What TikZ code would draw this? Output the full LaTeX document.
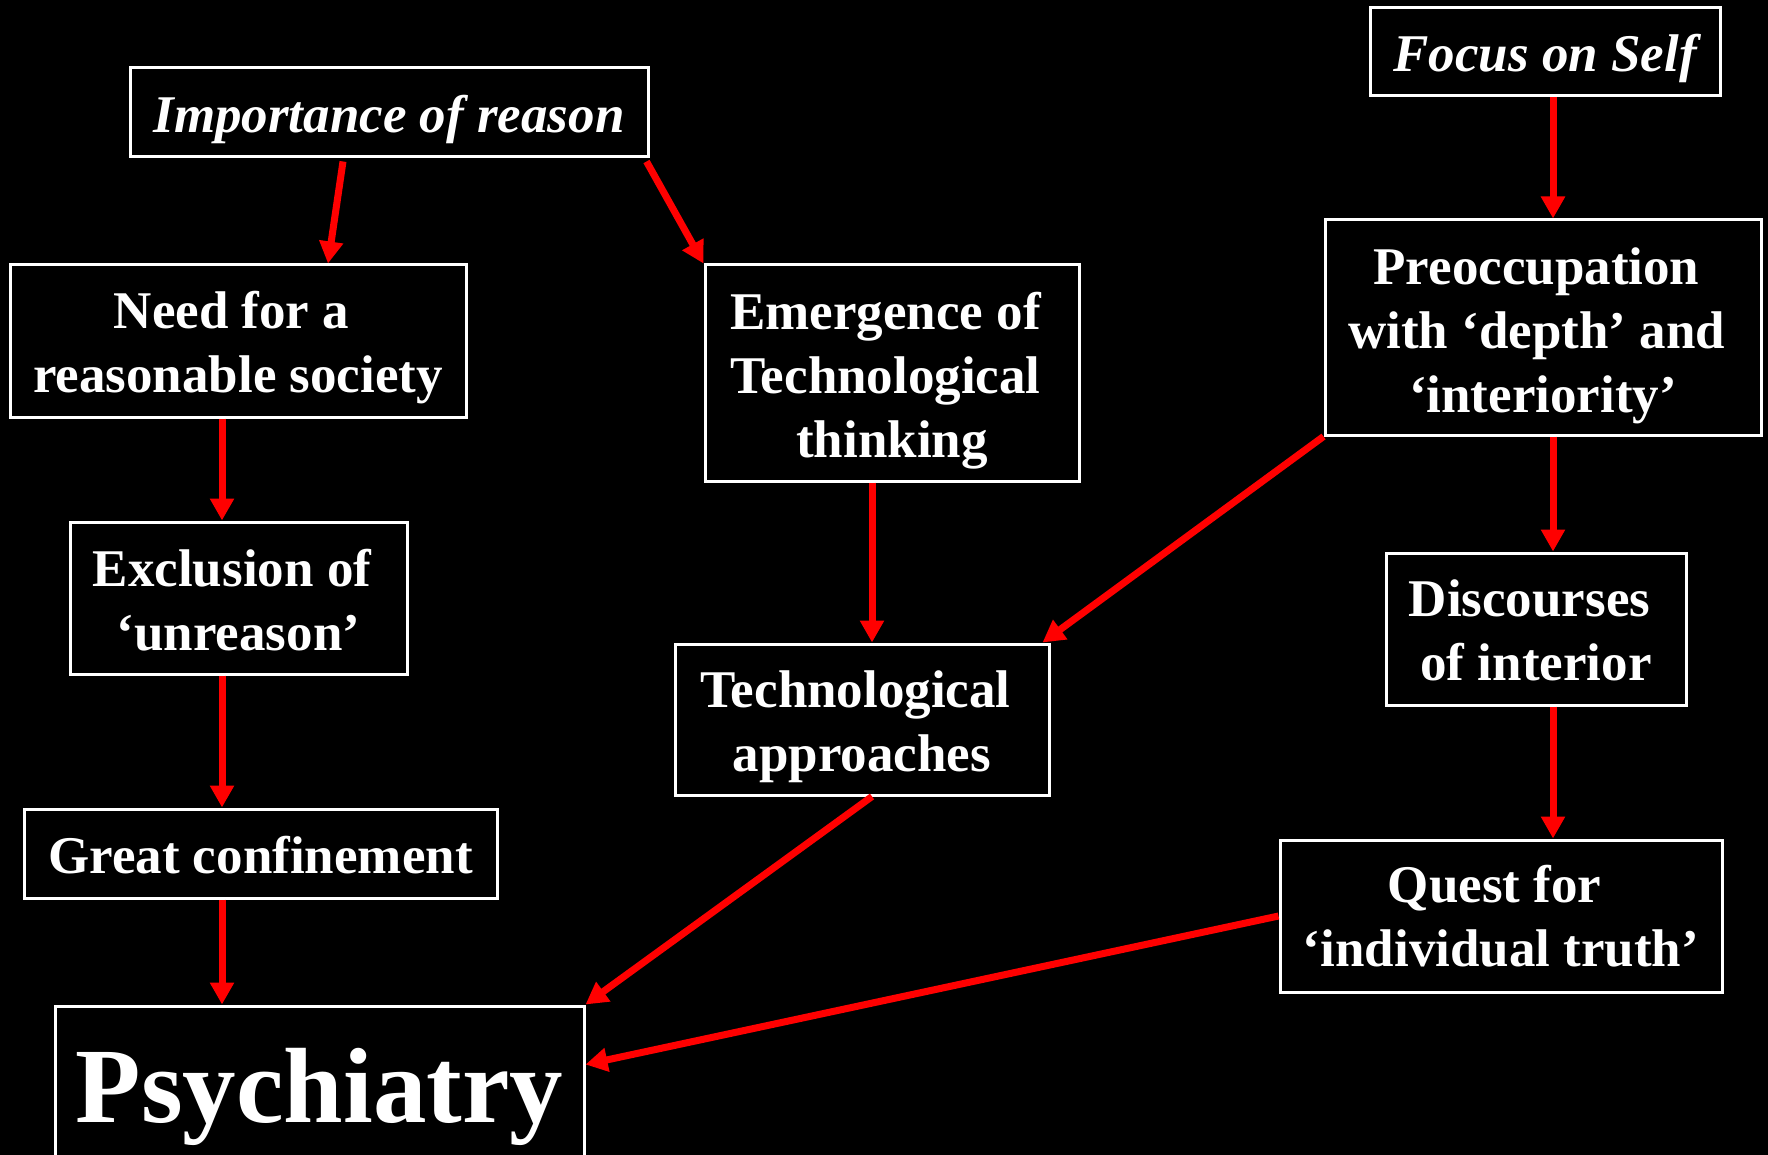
\documentclass[tikz,border=0pt]{standalone}
\usepackage{fontspec}
\setmainfont{Liberation Serif}
\usetikzlibrary{arrows.meta,calc}
\newcommand{\Ln}[2]{\raisebox{-#1pt}[\height][\depth]{#2}}
\newcommand{\Lt}[2]{\raisebox{-#1pt}[\height][\depth]{#2\kern13pt}}
\begin{document}
\begin{tikzpicture}[x=1pt,y=-1pt,
  box/.style 2 args={draw=white, line width=3pt, text=white,
    font=\fontsize{53}{64}\selectfont\bfseries, align=center, inner sep=0pt,
    minimum width=#1, minimum height=#2},
  italicbox/.style={font=\fontsize{53}{64}\selectfont\bfseries\itshape},
  redarrow/.style={draw=red, line width=7pt, -{Triangle[width=23pt,length=22pt]}}]
\useasboundingbox (0,0) rectangle (1768,1155);
\fill[black] (0,0) rectangle (1768,1155);
\clip (0,0) rectangle (1768,1155);

\node[box={518pt}{89pt}, italicbox] (imp) at (389,112.5) {\Ln{7}{Importance of reason}};
\node[box={456pt}{152pt}] (need) at (238,341) {\Lt{7}{Need for a}\\\Ln{7}{reasonable society}};
\node[box={337pt}{152pt}] (excl) at (238.5,598) {\Lt{2}{Exclusion of}\\\Ln{2}{‘unreason’}};
\node[box={473pt}{89pt}] (great) at (260.5,853.5) {\Ln{2}{Great confinement}};
\node[box={529pt}{182pt}, font=\fontsize{107}{120}\selectfont\bfseries] (psy) at (319.5,1097) {Psychiatry};
\node[box={374pt}{216pt}] (emer) at (892,373) {\Lt{8}{Emergence of}\\\Lt{8}{Technological}\\\Ln{8}{thinking}};
\node[box={374pt}{151pt}] (tech) at (862,719.5) {\Lt{7}{Technological}\\\Ln{7}{approaches}};
\node[box={350pt}{88pt}, italicbox] (focus) at (1545,52) {\Ln{6}{Focus on Self}};
\node[box={436pt}{215pt}] (pre) at (1543,327.5) {\Lt{8}{Preoccupation}\\\Lt{8}{with ‘depth’ and}\\\Ln{8}{‘interiority’}};
\node[box={300pt}{152pt}] (disc) at (1536,629) {\Lt{1}{Discourses}\\\Ln{1}{of interior}};
\node[box={442pt}{152pt}] (quest) at (1501,916) {\Lt{0}{Quest for}\\\Ln{0}{‘individual truth’}};

\draw[redarrow] ($(imp.south)+(-46,3)$) -- ($(need.north)+(90,0)$);
\draw[redarrow] ($(imp.south east)+(-3,3)$) -- (emer.north west);
\draw[redarrow] ($(need.south)+(-16,0)$) -- ($(excl.north)+(-16.5,0)$);
\draw[redarrow] ($(excl.south)+(-16.5,0)$) -- ($(great.north)+(-38.5,0)$);
\draw[redarrow] ($(great.south)+(-38.5,0)$) -- ($(psy.north)+(-97.5,0)$);
\draw[redarrow] ($(emer.south)+(-20,0)$) -- ($(tech.north)+(10,0)$);
\draw[redarrow] ($(tech.south)+(10,0)$) -- (psy.north east);
\draw[redarrow] ($(focus.south)+(8,0)$) -- ($(pre.north)+(10,0)$);
\draw[redarrow] ($(pre.south)+(10,0)$) -- ($(disc.north)+(17,0)$);
\draw[redarrow] ($(disc.south)+(17,0)$) -- ($(quest.north)+(52,0)$);
\draw[redarrow] (pre.south west) -- ($(tech.north east)+(-8,0)$);
\draw[redarrow] (quest.west) -- ($(psy.north east)+(0,60)$);
\end{tikzpicture}
\end{document}
